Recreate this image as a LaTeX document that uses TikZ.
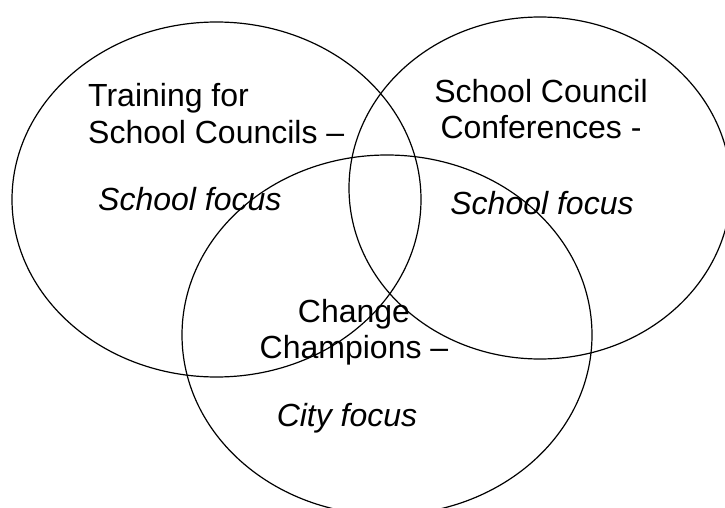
\documentclass[tikz,border=0pt]{standalone}
\usepackage{fontspec}
\setmainfont{Liberation Sans}
\begin{document}
\begin{tikzpicture}[x=1pt,y=-1pt,
  venn/.style={draw,line width=1.2pt},
  lbl/.style={inner sep=0pt,font=\fontsize{32}{36}\selectfont},
  focus/.style={lbl,font=\fontsize{32}{36}\selectfont\itshape}]
\useasboundingbox (0,0) rectangle (725,508);
\fill[white] (0,0) rectangle (725,508);

% the three sets
\draw[venn] (216.5,199.5) ellipse [x radius=204.5, y radius=177.5];
\draw[venn] (540,188) ellipse [x radius=191, y radius=171];
\draw[venn] (387,335) ellipse [x radius=205, y radius=180];

% labels (base = baseline of the last line)
\node[lbl,align=left,anchor=base west] (train) at (88,143) {Training for\\School Councils –};
\node[focus,anchor=base west] (trainfocus) at (98,210) {School focus};

\node[lbl,align=center,anchor=base] (conf) at (541,139) {School Council\\Conferences -};
\node[focus,anchor=base] (conffocus) at (542,214) {School focus};

\node[lbl,align=center,anchor=base] (change) at (354,358) {Change\\Champions –};
\node[focus,anchor=base] (cityfocus) at (347,426) {City focus};
\end{tikzpicture}
\end{document}
